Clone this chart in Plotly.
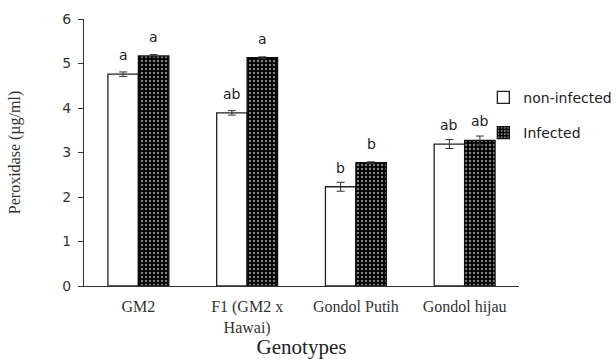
import plotly.graph_objects as go

genotypes = ["GM2", "F1 (GM2 x<br>Hawai)", "Gondol Putih", "Gondol hijau"]
non_infected = [4.76, 3.89, 2.23, 3.19]
non_infected_err = [0.05, 0.05, 0.10, 0.10]
infected = [5.17, 5.13, 2.77, 3.27]
infected_err = [0.03, 0.02, 0.02, 0.10]
letters_non = ["a", "ab", "b", "ab"]
letters_inf = ["a", "a", "b", "ab"]
y_ticks = [0, 1, 2, 3, 4, 5, 6]

x_pos = list(range(len(genotypes)))
bar_w = 0.28

fig = go.Figure()
fig.add_trace(go.Bar(
    name="non-infected", x=[x - bar_w / 2 for x in x_pos], y=non_infected, width=bar_w,
    marker=dict(color="white", line=dict(color="#222", width=1.3)),
    error_y=dict(type="data", array=non_infected_err, color="#333", thickness=1, width=4),
    legendgroup="n",
))
fig.add_trace(go.Bar(
    name="Infected", x=[x + bar_w / 2 for x in x_pos], y=infected, width=bar_w,
    marker=dict(color="black", line=dict(color="#111", width=1.3),
                pattern=dict(shape=".", bgcolor="black", fgcolor="white", size=4, solidity=0.3,
                             fillmode="overlay")),
    error_y=dict(type="data", array=infected_err, color="#333", thickness=1, width=4),
    legendgroup="i",
))

annotations = []
for i, x in enumerate(x_pos):
    for dx, val, lab in ((-bar_w / 2, non_infected[i], letters_non[i]),
                         (bar_w / 2, infected[i], letters_inf[i])):
        annotations.append(dict(x=x + dx, y=val, text=lab, showarrow=False, yanchor="middle",
                                yshift=19, font=dict(family="DejaVu Sans", size=14, color="#222")))

fig.update_layout(
    width=616, height=359,
    margin=dict(l=84, r=97, t=19, b=73, autoexpand=False),
    plot_bgcolor="white", paper_bgcolor="white",
    barmode="overlay",
    showlegend=True,
    legend=dict(x=0.918, y=0.765, xanchor="left", yanchor="top", traceorder="grouped",
                tracegroupgap=14, font=dict(family="DejaVu Sans", size=14, color="#222"),
                bgcolor="rgba(0,0,0,0)", itemwidth=30),
    annotations=annotations,
    xaxis=dict(tickmode="array", tickvals=x_pos, ticktext=genotypes, range=[-0.5, 3.5],
               automargin=False,
               showline=True, linecolor="#333", linewidth=1.3, ticks="", ticklabelstandoff=6,
               tickfont=dict(family="Liberation Serif", size=16, color="#333"),
               title=dict(text="Genotypes", font=dict(family="Liberation Serif", size=21, color="#222"),
                          standoff=4),
               showgrid=False, zeroline=False),
    yaxis=dict(range=[0, 6], tickvals=y_ticks, showline=True, linecolor="#333", linewidth=1.3,
               automargin=False,
               ticks="outside", ticklen=5, tickcolor="#333", ticklabelstandoff=4,
               tickfont=dict(family="DejaVu Sans", size=14, color="#333"),
               title=dict(text="Peroxidase (µg/ml)",
                          font=dict(family="Liberation Serif", size=16, color="#333"), standoff=37),
               showgrid=False, zeroline=False),
)

fig.write_html("out.html")
